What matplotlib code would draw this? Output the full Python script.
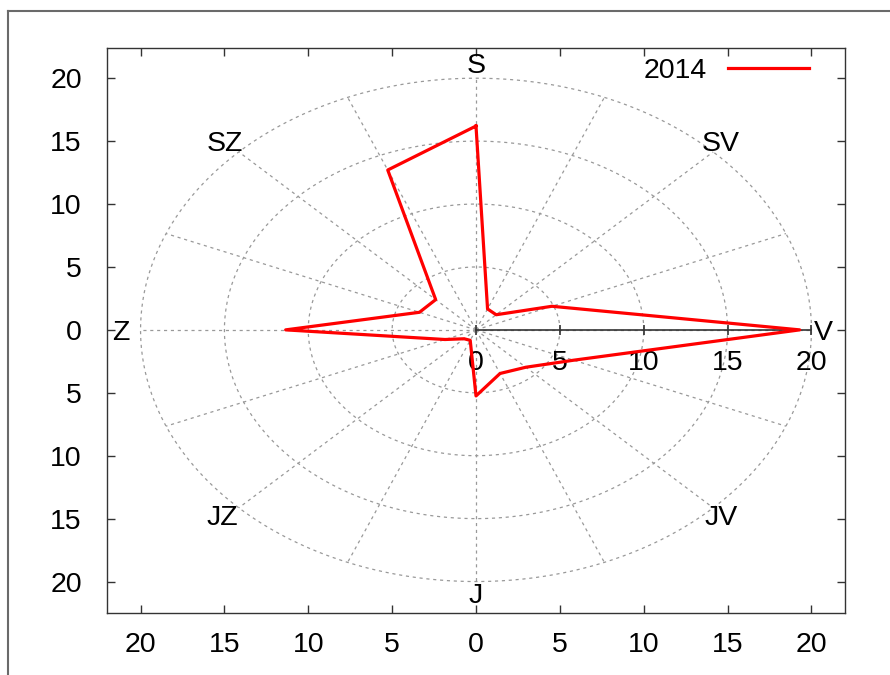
import numpy as np
import matplotlib
matplotlib.use("Agg")
import matplotlib.pyplot as plt
from matplotlib.lines import Line2D

plt.rcParams["font.family"] = ["Liberation Sans", "DejaVu Sans"]

# wind directions (compass degrees, clockwise from north) and frequencies
directions = ["S", "SSV", "SV", "VSV", "V", "VJV", "JV", "JJV",
              "J", "JJZ", "JZ", "ZJZ", "Z", "ZSZ", "SZ", "SSZ"]
compass_deg = np.arange(16) * 22.5
values_2014 = [16.2, 1.8, 1.7, 4.9, 19.3, 6.3, 4.2, 3.75,
               5.25, 0.9, 1.0, 2.0, 11.35, 3.65, 3.4, 13.75]

ring_radii = [5, 10, 15, 20]
axis_ticks = [-20, -15, -10, -5, 0, 5, 10, 15, 20]

# direction labels placed around the rose
label_text = ["S", "V", "J", "Z", "SZ", "SV", "JZ", "JV"]
label_x = [0, 20.7, 0, -21.2, -15.0, 14.6, -15.1, 14.6]
label_y = [21.2, 0, -20.9, 0, 15.0, 15.0, -14.7, -14.7]

FS = 20.5
grid_col = "#999999"
frame_col = "#333333"

fig = plt.figure(figsize=(8.9, 6.75), dpi=100)
ax = fig.add_axes([107 / 890, 62 / 675, 738 / 890, 565 / 675])

# polar grid: rings and spokes
t = np.linspace(0, 2 * np.pi, 400)
for r in ring_radii:
    ax.plot(r * np.cos(t), r * np.sin(t), color=grid_col, lw=0.9,
            ls=(0, (2.5, 3)), zorder=1)
for a in np.deg2rad(compass_deg):
    ax.plot([0, 20 * np.sin(a)], [0, 20 * np.cos(a)], color=grid_col, lw=0.9,
            ls=(0, (2.5, 3)), zorder=1)

# radial axis along east with its ticks and labels
ax.plot([0, 20], [0, 0], color=frame_col, lw=1.2, zorder=2)
r_ticks = [0, 5, 10, 15, 20]
ax.plot(r_ticks, [0] * len(r_ticks), ls="none", marker="|", ms=7,
        mew=1.2, color=frame_col, zorder=2)
for r in r_ticks:
    ax.annotate(str(r), (r, 0), xytext=(0, -24), textcoords="offset points",
                ha="center", va="center", fontsize=FS)

# wind rose polygon
theta = np.deg2rad(90 - compass_deg)
vals = np.array(values_2014)
xs = vals * np.cos(theta)
ys = vals * np.sin(theta)
ax.plot(np.append(xs, xs[0]), np.append(ys, ys[0]), color="#ff0000",
        lw=2.3, label="2014", zorder=3)

for txt, lx, ly in zip(label_text, label_x, label_y):
    ax.text(lx, ly, txt, ha="center", va="center_baseline", fontsize=FS)

ax.set_xlim(-22, 22)
ax.set_ylim(-22.5, 22.4)
ax.set_xticks(axis_ticks)
ax.set_xticklabels([str(abs(v)) for v in axis_ticks])
ax.set_yticks(axis_ticks)
ax.set_yticklabels([str(abs(v)) for v in axis_ticks])
ax.tick_params(direction="in", length=6, width=1, color=frame_col,
               labelsize=FS, top=True, right=True)
ax.tick_params(axis="x", pad=14)
ax.tick_params(axis="y", pad=18)
for sp in ax.spines.values():
    sp.set_color(frame_col)
    sp.set_linewidth(1.0)

ax.legend(loc="upper right", bbox_to_anchor=(0.951, 0.983), markerfirst=False,
          frameon=False, fontsize=FS, handlelength=2.85, handletextpad=0.74,
          borderpad=0, borderaxespad=0)

# outer frame lines
fig.add_artist(Line2D([8 / 890, 1], [1 - 11 / 675, 1 - 11 / 675],
                      color="#6a6a6a", lw=1.5))
fig.add_artist(Line2D([8 / 890, 8 / 890], [0, 1 - 11 / 675],
                      color="#6a6a6a", lw=1.5))

fig.savefig("out.png", dpi=100)
